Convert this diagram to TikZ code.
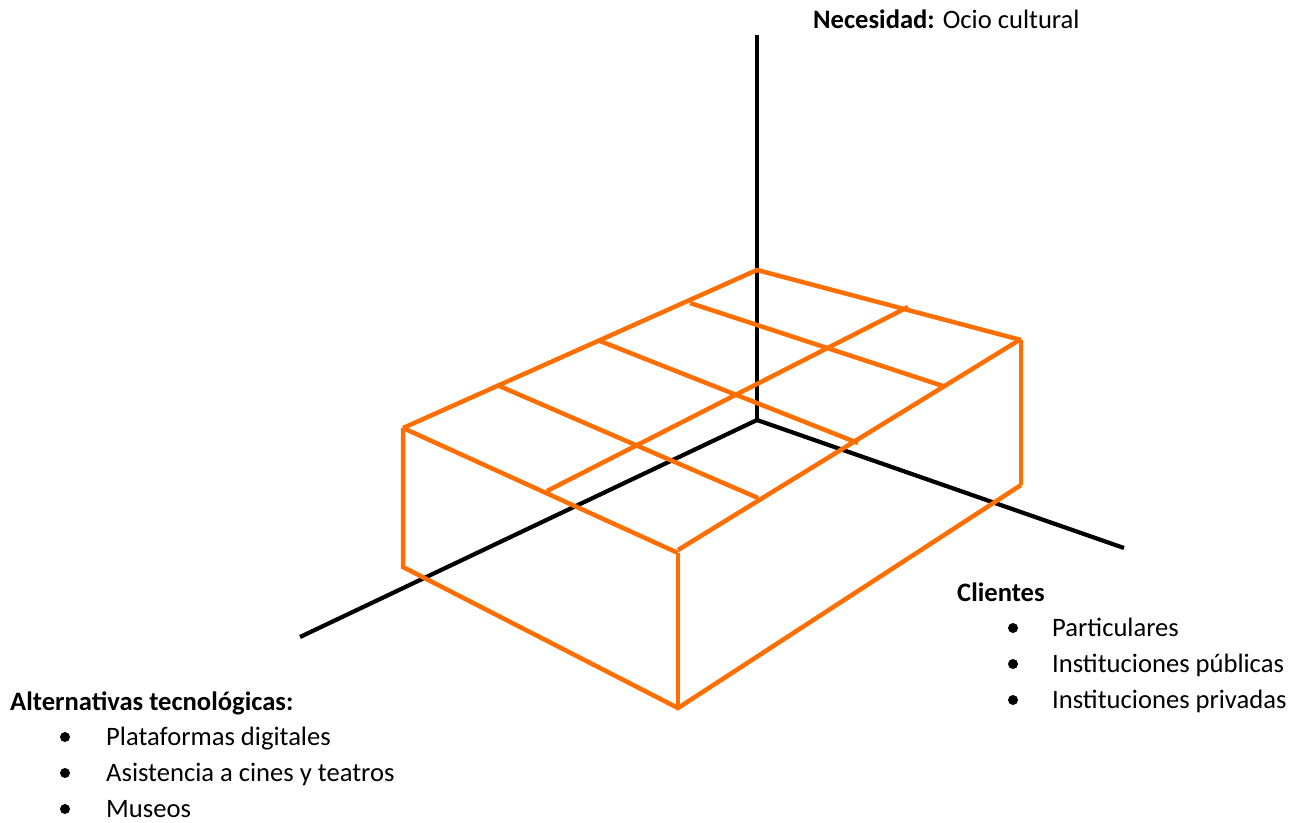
\documentclass[tikz,border=0pt]{standalone}
\usepackage{fontspec}
\setmainfont{Carlito}
\definecolor{boxorange}{RGB}{255,110,0}
\begin{document}
\begin{tikzpicture}[x=1pt,y=-1pt,
  axis/.style={line width=4.2pt, black},
  edge/.style={line width=4.5pt, boxorange, line cap=butt},
  txt/.style={anchor=base west, inner sep=0pt, font=\fontsize{26.6}{30}\selectfont},
  bul/.style={circle, fill=black, inner sep=0pt, minimum size=10pt}]
\useasboundingbox (0,0) rectangle (1297,822);
% axes
\coordinate (O) at (757,420);
\coordinate (Atop) at (757,35);
\coordinate (Aleft) at (300,637);
\coordinate (Aright) at (1124,548);
\draw[axis] (O) -- (Atop);
\draw[axis] (O) -- (Aleft);
\draw[axis] (O) -- (Aright);
% box corners
\coordinate (TB) at (757,270);
\coordinate (TL) at (403,428);
\coordinate (TF) at (678,553);
\coordinate (TR) at (1021,340);
\coordinate (BL) at (403,567);
\coordinate (BF) at (678,708);
\coordinate (BR) at (1021,485);
\coordinate (TFr) at (678,550);
\coordinate (TRr) at (1021,339);
% grid points
\coordinate (G1a) at (497,385);
\coordinate (G1b) at (758,498);
\coordinate (G2a) at (600,341);
\coordinate (G2b) at (858,443);
\coordinate (G3a) at (690,303);
\coordinate (G3b) at (943,386);
\coordinate (H1a) at (547,491);
\coordinate (H1b) at (908,307);
% box edges
\draw[edge] (TL) -- (TB) -- (TR);
\draw[edge] (TL) -- (TF);
\draw[edge] (TFr) -- (TRr);
\draw[edge] (TL) -- (BL) -- (BF) -- (BR);
\draw[edge] (TF) -- (BF);
\draw[edge] (TR) -- (BR);
% grid
\draw[edge] (G1a) -- (G1b);
\draw[edge] (G2a) -- (G2b);
\draw[edge] (G3a) -- (G3b);
\draw[edge] (H1a) -- (H1b);
% texts
\node[txt] (nec) at (813,28) {\textbf{Necesidad:} Ocio cultural};
\node[txt] (cli) at (957,601) {\textbf{Clientes}};
\node[bul] (cb1) at (1013,628) {};
\node[bul] (cb2) at (1013,664) {};
\node[bul] (cb3) at (1013,700) {};
\node[txt] (c1) at (1052,636) {Particulares};
\node[txt] (c2) at (1052,672) {Instituciones públicas};
\node[txt] (c3) at (1052,708) {Instituciones privadas};
\node[txt] (alt) at (10,710) {\textbf{Alternativas tecnológicas:}};
\node[bul] (ab1) at (65,737) {};
\node[bul] (ab2) at (65,773) {};
\node[bul] (ab3) at (65,809) {};
\node[txt] (a1) at (106,745) {Plataformas digitales};
\node[txt] (a2) at (106,781) {Asistencia a cines y teatros};
\node[txt] (a3) at (106,817) {Museos};
\end{tikzpicture}
\end{document}
